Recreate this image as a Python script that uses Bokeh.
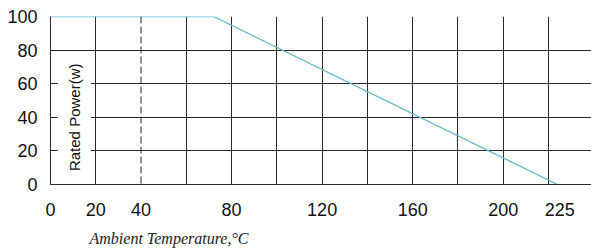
from bokeh.plotting import figure
from bokeh.models import FixedTicker, Span, Label, Title
from bokeh.embed import file_html
from bokeh.resources import INLINE

# data
temp = [0, 72, 224]
power = [100, 100, 0]
x_ticks = [0, 20, 40, 80, 120, 160, 200, 225]
x_grid = [20, 60, 80, 100, 120, 140, 160, 180, 200, 220]
dashed_temp = 40
y_ticks = [0, 20, 40, 60, 80, 100]
y_grid = [20, 40, 60, 80, 100]

p = figure(frame_width=541, frame_height=168, x_range=(0, 239), y_range=(0, 100),
           output_backend="svg", toolbar_location=None,
           min_border_left=50, min_border_right=0, min_border_top=16, min_border_bottom=0)
p.outline_line_color = None
p.background_fill_color = "white"
p.border_fill_color = "white"

grid_col = "#2a2a2a"
p.xgrid.ticker = FixedTicker(ticks=x_grid)
p.ygrid.ticker = FixedTicker(ticks=y_grid)
for g in (p.xgrid, p.ygrid):
    g.grid_line_color = grid_col
    g.grid_line_width = 1
    g.grid_line_alpha = 1

p.add_layout(Span(location=dashed_temp, dimension="height", line_color=grid_col,
                  line_width=1, line_dash="7 3"))

p.xaxis.ticker = FixedTicker(ticks=x_ticks)
p.yaxis.ticker = FixedTicker(ticks=y_ticks)
for ax in (p.xaxis, p.yaxis):
    ax.axis_line_color = grid_col
    ax.axis_line_width = 1
    ax.major_tick_line_color = None
    ax.minor_tick_line_color = None
    ax.major_label_text_font = "Liberation Sans"
    ax.major_label_text_font_size = "18px"
    ax.major_label_text_color = "#111111"
p.xaxis.major_label_standoff = 12
p.yaxis.major_label_standoff = 7

p.line(temp, power, line_color="#62bccb", line_width=1.3)

p.add_layout(Label(x=10.5, y=40, text="Rated Power(w)", angle=1.5708,
                   text_align="center", text_baseline="middle",
                   text_font="Liberation Sans", text_font_size="15px", text_color="#111111",
                   background_fill_color="white", padding=8))

p.add_layout(Title(text="Ambient Temperature,°C", align="left", offset=39, standoff=19,
                   text_font="Liberation Serif", text_font_style="italic",
                   text_font_size="16px", text_color="#222222"), "below")

open("out.html", "w").write(file_html(p, INLINE))
